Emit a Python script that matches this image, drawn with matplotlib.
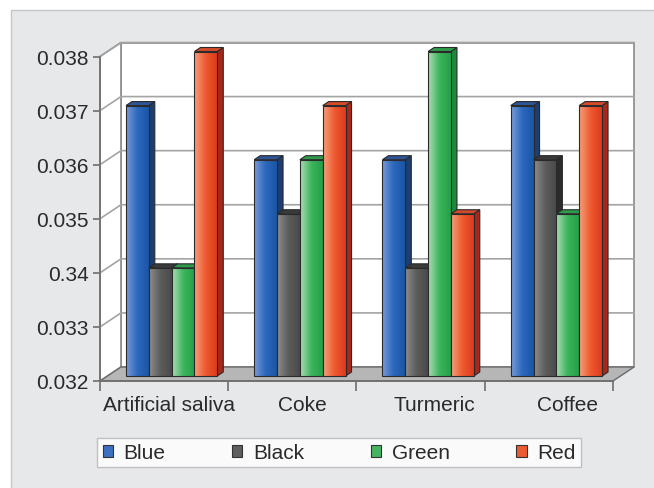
import numpy as np
import matplotlib
matplotlib.use("Agg")
import matplotlib.pyplot as plt
from matplotlib.transforms import ScaledTranslation
from matplotlib.patches import Polygon, Rectangle, Patch
from matplotlib.lines import Line2D
from matplotlib.colors import LinearSegmentedColormap

plt.rcParams["font.family"] = ["Liberation Sans", "DejaVu Sans"]

# ---- data ----
categories = ["Artificial saliva", "Coke", "Turmeric", "Coffee"]
series_names = ["Blue", "Black", "Green", "Red"]
blue = [0.037, 0.036, 0.036, 0.037]
black = [0.034, 0.035, 0.034, 0.036]
green = [0.034, 0.036, 0.038, 0.035]
red = [0.038, 0.037, 0.035, 0.037]
series_values = [blue, black, green, red]
yticks = [0.032, 0.033, 0.034, 0.035, 0.036, 0.037, 0.038]
ytick_labels = ["0.032", "0.033", "0.34", "0.035", "0.036", "0.037", "0.038"]

# ---- styles ----
face_grad = [
    ["#7a9bd8", "#2c68bd", "#1a56a6"],
    ["#8c8c8c", "#5c5c5c", "#4a4a4a"],
    ["#a9dcb2", "#3db45c", "#22a04a"],
    ["#f6a07c", "#ee5a31", "#dd3a1c"],
]
side_col = ["#1c3e72", "#2c2c2c", "#1c8a3c", "#a8261a"]
top_col = ["#2d5597", "#3a3a3a", "#2c9c4a", "#d44a2a"]
legend_col = ["#3e70c2", "#5e5e5e", "#45b362", "#ec5c32"]
text_col = "#2a2a2a"
grid_col = "#a4a4a4"
axis_col = "#6e6e6e"
edge_col = "#2a2a2a"

W, H = 654, 489
fig = plt.figure(figsize=(W / 100, H / 100), dpi=100)
fig.patch.set_facecolor("white")
fig.add_artist(Rectangle((11 / W, -0.01), 1.02, 1 - 11 / H + 0.01,
                         transform=fig.transFigure, facecolor="#e7e8ea",
                         edgecolor="#c4c5c7", lw=1.0, zorder=0))

ax = fig.add_axes([100 / W, 107 / H, 513 / W, 324.5 / H])
ax.set_autoscale_on(False)
ax.set_xlim(0, 4)
ax.set_ylim(yticks[0], yticks[-1])
ax.patch.set_visible(False)
for s in ["top", "right"]:
    ax.spines[s].set_visible(False)
for s in ["left", "bottom"]:
    ax.spines[s].set_color(axis_col)
    ax.spines[s].set_linewidth(1.2)
    ax.spines[s].set_zorder(6)

ymin, ymax = yticks[0], yticks[-1]
wall_dx, wall_dy = 21, 14     # depth of the chart box in pixels
bar_dx, bar_dy = 7.5, 5       # front face of the bars
bdep_dx, bdep_dy = 6, 4       # thickness of each bar


def shift(x, y, dx, dy):
    p = ax.transData.transform((x, y))
    return ax.transData.inverted().transform(p + np.array([dx, dy]))


def off(dx, dy):
    return ax.transData + ScaledTranslation(dx / 100, dy / 100, fig.dpi_scale_trans)


# back wall
bl = shift(0, ymin, wall_dx, wall_dy)
tr = shift(4, ymax, wall_dx, wall_dy)
ax.add_patch(Rectangle(bl, tr[0] - bl[0], tr[1] - bl[1], facecolor="white",
                       edgecolor="#8a8a8a", lw=1.2, zorder=1, clip_on=False))
# left wall
lw_pts = [(0, ymin), (0, ymax), tuple(shift(0, ymax, wall_dx, wall_dy)),
          tuple(shift(0, ymin, wall_dx, wall_dy))]
ax.add_patch(Polygon(lw_pts, closed=True, facecolor="white",
                     edgecolor="#8a8a8a", lw=1.2, zorder=1, clip_on=False))
# gridlines on both walls
for t in yticks[1:]:
    b0 = shift(0, t, wall_dx, wall_dy)
    b1 = shift(4, t, wall_dx, wall_dy)
    ax.add_line(Line2D([0, b0[0], b1[0]], [t, b0[1], b1[1]],
                       color=grid_col, lw=1.2, zorder=2, clip_on=False))
# floor
fl = [(0, ymin), (4, ymin), tuple(shift(4, ymin, wall_dx, wall_dy)),
      tuple(shift(0, ymin, wall_dx, wall_dy))]
ax.add_patch(Polygon(fl, closed=True, facecolor="#b6b6b6",
                     edgecolor="#6a6a6a", lw=1.0, zorder=3, clip_on=False))

# bars
bar_w = 0.178
n = len(series_values)
centers = np.arange(len(categories)) + 0.5
grad = np.linspace(0, 1, 64).reshape(1, -1)
front_tr = off(bar_dx, bar_dy)
z = 4
for ci in range(len(categories)):
    for si in range(n):
        v = series_values[si][ci]
        x0 = centers[ci] + (si - n / 2) * bar_w
        x1 = x0 + bar_w
        # side face
        a = shift(x1, ymin, bar_dx, bar_dy)
        b = shift(x1, v, bar_dx, bar_dy)
        side = [tuple(a), tuple(b), tuple(shift(*b, bdep_dx, bdep_dy)),
                tuple(shift(*a, bdep_dx, bdep_dy))]
        ax.add_patch(Polygon(side, closed=True, facecolor=side_col[si],
                             edgecolor=edge_col, lw=0.8, zorder=z, clip_on=False))
        # top face
        c = shift(x0, v, bar_dx, bar_dy)
        top = [tuple(c), tuple(b), tuple(shift(*b, bdep_dx, bdep_dy)),
               tuple(shift(*c, bdep_dx, bdep_dy))]
        ax.add_patch(Polygon(top, closed=True, facecolor=top_col[si],
                             edgecolor=edge_col, lw=0.8, zorder=z, clip_on=False))
        # front face with a horizontal shading
        rects = ax.bar(x0, v - ymin, bottom=ymin, width=bar_w, align="edge",
                       color=face_grad[si][1], edgecolor="none",
                       transform=front_tr, zorder=z + 0.1, clip_on=False)
        cmap = LinearSegmentedColormap.from_list("f%d" % si, face_grad[si])
        im = ax.imshow(grad, cmap=cmap, aspect="auto", interpolation="bilinear",
                       extent=[x0, x1, ymin, v], transform=front_tr,
                       zorder=z + 0.2)
        im.set_clip_path(rects[0])
        ax.add_patch(Rectangle((x0, ymin), bar_w, v - ymin, facecolor="none",
                               edgecolor=edge_col, lw=0.8, transform=front_tr,
                               zorder=z + 0.3, clip_on=False))
        z += 1

ax.set_xlim(0, 4)
ax.set_ylim(ymin, ymax)

# y axis
ax.set_yticks(yticks)
ax.set_yticklabels(ytick_labels)
ax.tick_params(axis="y", length=5, width=1.2, color=axis_col, pad=3,
               labelsize=15, labelcolor=text_col)
# x axis: separators as major ticks, names as minor tick labels
ax.set_xticks(np.arange(len(categories) + 1))
ax.set_xticklabels([])
label_x = centers + 0.04 + 0.035 * np.arange(len(categories))
ax.set_xticks(label_x, minor=True)
ax.set_xticklabels(categories, minor=True)
ax.tick_params(axis="x", which="major", length=7.5, width=1.2, color=axis_col)
ax.tick_params(axis="x", which="minor", length=0, pad=10, labelsize=15,
               labelcolor=text_col)

# legend
handles = [Patch(facecolor=legend_col[i], edgecolor="#333333", lw=0.8)
           for i in range(n)]
leg = fig.legend(handles, series_names, loc="center",
                 bbox_to_anchor=(339 / W, 1 - 453.5 / H), ncol=4,
                 fontsize=15, frameon=True, fancybox=False,
                 handlelength=0.5, handleheight=0.5, handletextpad=0.5,
                 columnspacing=3.2, borderpad=0.25, borderaxespad=0)
leg.get_frame().set_edgecolor("#b4b4b4")
leg.get_frame().set_linewidth(1.0)
for t in leg.get_texts():
    t.set_color(text_col)

fig.savefig("out.png", dpi=100)
